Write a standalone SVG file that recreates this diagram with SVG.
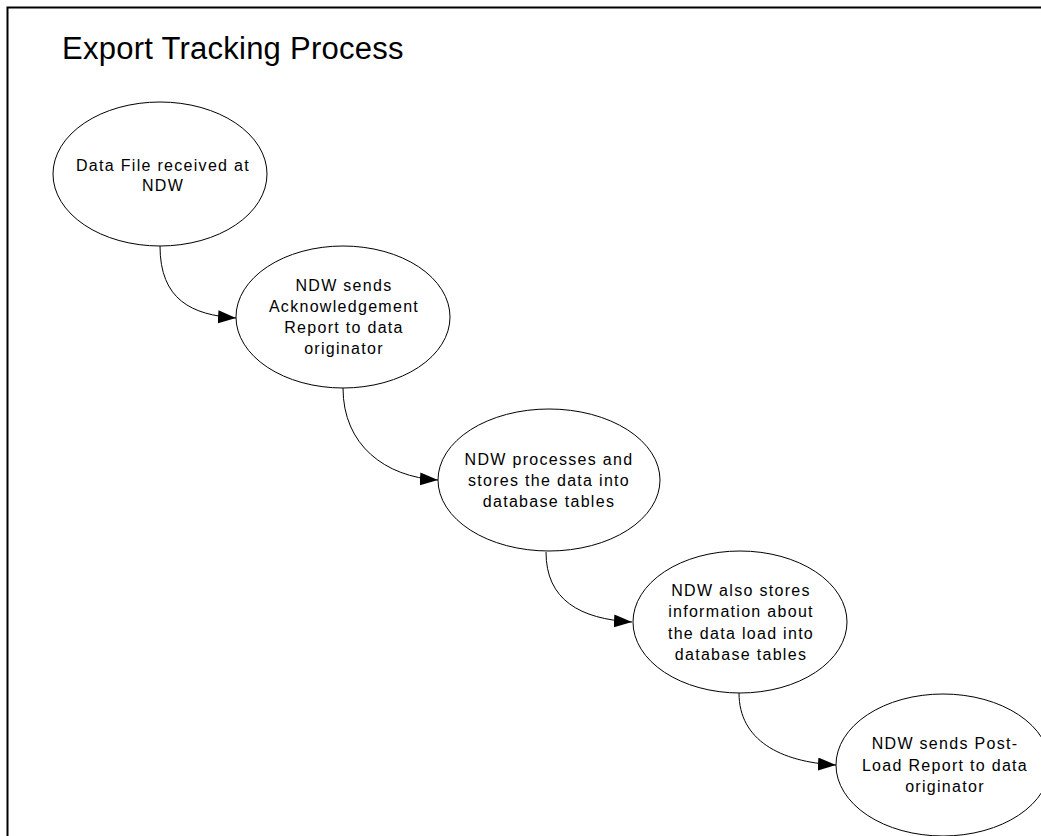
<svg xmlns="http://www.w3.org/2000/svg" width="1041" height="836" viewBox="0 0 1041 836">
<defs>
<style>
.node ellipse{fill:#fff;stroke:#000;stroke-width:1}
.node text{font-family:"Liberation Sans",Arial,sans-serif;font-size:16px;letter-spacing:1.3px;text-anchor:middle;fill:#000}
.conn path{fill:none;stroke:#000;stroke-width:1}
.title{font-family:"Liberation Sans",Arial,sans-serif;font-size:31px;letter-spacing:0.25px;fill:#000}
</style>
<marker id="arr" markerUnits="userSpaceOnUse" markerWidth="19" markerHeight="14" refX="18" refY="6.5" orient="auto">
<path d="M0,0 L18,6.5 L0,13 z" fill="#000"/>
</marker>
</defs>
<rect x="0" y="0" width="1041" height="836" fill="#fff"/>
<rect x="7.5" y="7.5" width="1200" height="1000" fill="none" stroke="#000" stroke-width="2"/>
<text class="title" x="62" y="59">Export Tracking Process</text>
<g class="conn">
<path d="M160,246 C160,300 192,315 236,318" marker-end="url(#arr)"/>
<path d="M343,388 C343,445 385,477 438,480" marker-end="url(#arr)"/>
<path d="M546,552 C546,600 580,619 632,622" marker-end="url(#arr)"/>
<path d="M739,693 C739,740 780,762 836,765" marker-end="url(#arr)"/>
</g>
<g id="n1" class="node">
<ellipse cx="160" cy="174" rx="107" ry="72"/>
<text x="163" y="171">Data File received at</text>
<text x="163" y="191">NDW</text>
</g>
<g id="n2" class="node">
<ellipse cx="343" cy="317" rx="107" ry="71"/>
<text x="344" y="291">NDW sends</text>
<text x="344" y="312">Acknowledgement</text>
<text x="344" y="333">Report to data</text>
<text x="344" y="354">originator</text>
</g>
<g id="n3" class="node">
<ellipse cx="549" cy="480" rx="111" ry="71"/>
<text x="549" y="465">NDW processes and</text>
<text x="549" y="486">stores the data into</text>
<text x="549" y="507">database tables</text>
</g>
<g id="n4" class="node">
<ellipse cx="740" cy="622" rx="107" ry="71"/>
<text x="741" y="596">NDW also stores</text>
<text x="741" y="617">information about</text>
<text x="741" y="639">the data load into</text>
<text x="741" y="660">database tables</text>
</g>
<g id="n5" class="node">
<ellipse cx="943" cy="765" rx="107" ry="71"/>
<text x="945" y="749">NDW sends Post-</text>
<text x="945" y="771">Load Report to data</text>
<text x="945" y="792">originator</text>
</g>
</svg>
